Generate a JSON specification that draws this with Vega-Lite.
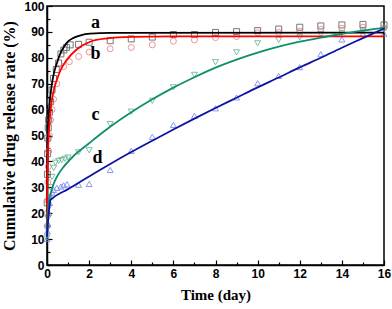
{
  "$schema": "https://vega.github.io/schema/vega-lite/v6.json",
  "width": 337,
  "height": 259,
  "autosize": {"type": "none"},
  "padding": {"left": 47, "top": 6, "right": 8, "bottom": 44},
  "background": "white",
  "view": {"stroke": "black", "strokeWidth": 1.5},
  "config": {
    "axis": {
      "grid": false,
      "domainColor": "black",
      "domainWidth": 1.5,
      "tickColor": "black",
      "tickWidth": 1.2,
      "labelFont": "Liberation Sans",
      "labelFontWeight": "bold",
      "labelFontSize": 12,
      "labelColor": "black",
      "titleFont": "Liberation Serif",
      "titleFontWeight": "bold",
      "titleColor": "black"
    }
  },
  "datasets": {
    "fit": [
      {"s": "a", "t": 0, "v": 11}, {"s": "a", "t": 0.02, "v": 35}, {"s": "a", "t": 0.06, "v": 52}, {"s": "a", "t": 0.12, "v": 62},
      {"s": "a", "t": 0.2, "v": 68}, {"s": "a", "t": 0.3, "v": 73}, {"s": "a", "t": 0.47, "v": 78}, {"s": "a", "t": 0.65, "v": 82},
      {"s": "a", "t": 0.8, "v": 84.2}, {"s": "a", "t": 1, "v": 86.3}, {"s": "a", "t": 1.26, "v": 87.7}, {"s": "a", "t": 1.6, "v": 88.7},
      {"s": "a", "t": 2.05, "v": 89.3}, {"s": "a", "t": 3, "v": 89.6}, {"s": "a", "t": 16, "v": 89.7},
      {"s": "b", "t": 0, "v": 11}, {"s": "b", "t": 0.01, "v": 29}, {"s": "b", "t": 0.04, "v": 42}, {"s": "b", "t": 0.08, "v": 50},
      {"s": "b", "t": 0.16, "v": 59}, {"s": "b", "t": 0.31, "v": 67}, {"s": "b", "t": 0.47, "v": 71.5}, {"s": "b", "t": 0.63, "v": 75},
      {"s": "b", "t": 0.95, "v": 79.3}, {"s": "b", "t": 1.42, "v": 83.3}, {"s": "b", "t": 2.05, "v": 86.2}, {"s": "b", "t": 2.85, "v": 87.5},
      {"s": "b", "t": 4, "v": 88.1}, {"s": "b", "t": 6, "v": 88.3}, {"s": "b", "t": 16, "v": 88.3},
      {"s": "c", "t": 0, "v": 11}, {"s": "c", "t": 0.03, "v": 20}, {"s": "c", "t": 0.08, "v": 24}, {"s": "c", "t": 0.16, "v": 27},
      {"s": "c", "t": 0.3, "v": 31}, {"s": "c", "t": 0.5, "v": 34.5}, {"s": "c", "t": 0.8, "v": 38}, {"s": "c", "t": 1.25, "v": 42},
      {"s": "c", "t": 2, "v": 47}, {"s": "c", "t": 2.5, "v": 50.3}, {"s": "c", "t": 3, "v": 53.4}, {"s": "c", "t": 4, "v": 59},
      {"s": "c", "t": 5, "v": 64}, {"s": "c", "t": 6, "v": 68.5}, {"s": "c", "t": 7, "v": 72.5}, {"s": "c", "t": 8, "v": 76.2},
      {"s": "c", "t": 9, "v": 79.3}, {"s": "c", "t": 10, "v": 82}, {"s": "c", "t": 11, "v": 84.3}, {"s": "c", "t": 12, "v": 86.2},
      {"s": "c", "t": 13, "v": 87.8}, {"s": "c", "t": 14, "v": 89.2}, {"s": "c", "t": 15, "v": 90.5}, {"s": "c", "t": 16, "v": 91.6},
      {"s": "d", "t": 0, "v": 11}, {"s": "d", "t": 0.05, "v": 17}, {"s": "d", "t": 0.1, "v": 21.5}, {"s": "d", "t": 0.16, "v": 25},
      {"s": "d", "t": 0.3, "v": 26}, {"s": "d", "t": 1, "v": 29.3}, {"s": "d", "t": 2, "v": 34.2}, {"s": "d", "t": 3, "v": 39},
      {"s": "d", "t": 4, "v": 43.6}, {"s": "d", "t": 5, "v": 48}, {"s": "d", "t": 6, "v": 52.3}, {"s": "d", "t": 7, "v": 56.5},
      {"s": "d", "t": 8, "v": 60.6}, {"s": "d", "t": 9, "v": 64.6}, {"s": "d", "t": 10, "v": 68.6}, {"s": "d", "t": 11, "v": 72.4},
      {"s": "d", "t": 12, "v": 76.3}, {"s": "d", "t": 13, "v": 80}, {"s": "d", "t": 14, "v": 83.9}, {"s": "d", "t": 15, "v": 87.6},
      {"s": "d", "t": 16, "v": 91.3}
    ],
    "obs": [
      {"s": "a", "t": 0.01, "v": 24}, {"s": "a", "t": 0.02, "v": 35}, {"s": "a", "t": 0.03, "v": 43}, {"s": "a", "t": 0.04, "v": 49},
      {"s": "a", "t": 0.06, "v": 53}, {"s": "a", "t": 0.08, "v": 56}, {"s": "a", "t": 0.12, "v": 59}, {"s": "a", "t": 0.17, "v": 63},
      {"s": "a", "t": 0.24, "v": 67.6}, {"s": "a", "t": 0.31, "v": 72}, {"s": "a", "t": 0.44, "v": 75.5}, {"s": "a", "t": 0.55, "v": 78},
      {"s": "a", "t": 0.66, "v": 81.5}, {"s": "a", "t": 0.8, "v": 83}, {"s": "a", "t": 0.92, "v": 84}, {"s": "a", "t": 1.1, "v": 85},
      {"s": "a", "t": 1.5, "v": 85.2}, {"s": "a", "t": 2, "v": 86}, {"s": "a", "t": 3, "v": 86.6}, {"s": "a", "t": 4, "v": 87.3},
      {"s": "a", "t": 5, "v": 88}, {"s": "a", "t": 6, "v": 89}, {"s": "a", "t": 7, "v": 89}, {"s": "a", "t": 8, "v": 89.8},
      {"s": "a", "t": 9, "v": 90.1}, {"s": "a", "t": 10, "v": 90.5}, {"s": "a", "t": 11, "v": 91.1}, {"s": "a", "t": 12, "v": 91.8},
      {"s": "a", "t": 13, "v": 92.3}, {"s": "a", "t": 14, "v": 92.7}, {"s": "a", "t": 15, "v": 92.9}, {"s": "a", "t": 16, "v": 92.7},
      {"s": "b", "t": 0.01, "v": 15}, {"s": "b", "t": 0.02, "v": 20}, {"s": "b", "t": 0.03, "v": 25}, {"s": "b", "t": 0.04, "v": 32},
      {"s": "b", "t": 0.06, "v": 38}, {"s": "b", "t": 0.08, "v": 44}, {"s": "b", "t": 0.12, "v": 50}, {"s": "b", "t": 0.17, "v": 56},
      {"s": "b", "t": 0.24, "v": 60}, {"s": "b", "t": 0.31, "v": 64}, {"s": "b", "t": 0.47, "v": 70}, {"s": "b", "t": 0.79, "v": 76.6},
      {"s": "b", "t": 1.06, "v": 78.5}, {"s": "b", "t": 1.5, "v": 80.5}, {"s": "b", "t": 2, "v": 82.2}, {"s": "b", "t": 3, "v": 83.5},
      {"s": "b", "t": 4, "v": 84}, {"s": "b", "t": 5, "v": 85}, {"s": "b", "t": 6, "v": 86.4}, {"s": "b", "t": 7, "v": 86.9},
      {"s": "b", "t": 8, "v": 87.8}, {"s": "b", "t": 9, "v": 88.2}, {"s": "b", "t": 10, "v": 89.7}, {"s": "b", "t": 11, "v": 89.8},
      {"s": "b", "t": 12, "v": 90.3}, {"s": "b", "t": 13, "v": 91}, {"s": "b", "t": 14, "v": 91.4}, {"s": "b", "t": 15, "v": 91.8},
      {"s": "b", "t": 16, "v": 91.5},
      {"s": "c", "t": 0, "v": 10.5}, {"s": "c", "t": 0.02, "v": 14}, {"s": "c", "t": 0.04, "v": 18}, {"s": "c", "t": 0.08, "v": 22},
      {"s": "c", "t": 0.12, "v": 26}, {"s": "c", "t": 0.16, "v": 30}, {"s": "c", "t": 0.24, "v": 34}, {"s": "c", "t": 0.32, "v": 37.5},
      {"s": "c", "t": 0.4, "v": 39.5}, {"s": "c", "t": 0.55, "v": 40.2}, {"s": "c", "t": 0.7, "v": 40.5}, {"s": "c", "t": 0.85, "v": 41},
      {"s": "c", "t": 1, "v": 41.5}, {"s": "c", "t": 1.5, "v": 43.5}, {"s": "c", "t": 2, "v": 44.3}, {"s": "c", "t": 3, "v": 54.4},
      {"s": "c", "t": 4, "v": 59.2}, {"s": "c", "t": 5, "v": 63.4}, {"s": "c", "t": 6, "v": 68.6}, {"s": "c", "t": 7, "v": 73.4},
      {"s": "c", "t": 8, "v": 78.3}, {"s": "c", "t": 9, "v": 82.1}, {"s": "c", "t": 10, "v": 85.6}, {"s": "c", "t": 11, "v": 86.9},
      {"s": "c", "t": 12, "v": 87.9}, {"s": "c", "t": 13, "v": 89.2}, {"s": "c", "t": 14, "v": 89.6}, {"s": "c", "t": 15, "v": 90.2},
      {"s": "c", "t": 16, "v": 91},
      {"s": "d", "t": 0, "v": 10}, {"s": "d", "t": 0.02, "v": 13}, {"s": "d", "t": 0.04, "v": 16}, {"s": "d", "t": 0.08, "v": 20},
      {"s": "d", "t": 0.12, "v": 24}, {"s": "d", "t": 0.16, "v": 26.5}, {"s": "d", "t": 0.24, "v": 28}, {"s": "d", "t": 0.31, "v": 29},
      {"s": "d", "t": 0.47, "v": 29.8}, {"s": "d", "t": 0.66, "v": 30.3}, {"s": "d", "t": 0.79, "v": 30.8}, {"s": "d", "t": 0.95, "v": 31.2},
      {"s": "d", "t": 1.5, "v": 31}, {"s": "d", "t": 2, "v": 31.3}, {"s": "d", "t": 3, "v": 36.7}, {"s": "d", "t": 4, "v": 44.1},
      {"s": "d", "t": 5, "v": 49.5}, {"s": "d", "t": 6, "v": 54.1}, {"s": "d", "t": 7, "v": 57.6}, {"s": "d", "t": 8, "v": 60.5},
      {"s": "d", "t": 9, "v": 64.7}, {"s": "d", "t": 10, "v": 70.2}, {"s": "d", "t": 11, "v": 73}, {"s": "d", "t": 12, "v": 76.4},
      {"s": "d", "t": 13, "v": 81.4}, {"s": "d", "t": 14, "v": 87.1}, {"s": "d", "t": 15, "v": 89.3}, {"s": "d", "t": 16, "v": 89.3}
    ],
    "labels": [
      {"s": "a", "t": 2.3, "v": 93.5},
      {"s": "b", "t": 2.3, "v": 81.5},
      {"s": "c", "t": 2.3, "v": 58},
      {"s": "d", "t": 2.4, "v": 41.5}
    ]
  },
  "encoding": {
    "x": {
      "field": "t", "type": "quantitative",
      "scale": {"domain": [0, 16], "nice": false, "zero": false},
      "axis": {
        "title": "Time (day)",
        "titleFontSize": 15,
        "titlePadding": 8,
        "values": [0,1,2,3,4,5,6,7,8,9,10,11,12,13,14,15,16],
        "labelExpr": "datum.value % 2 === 0 ? datum.label : ''",
        "tickSize": {"condition": {"test": "datum.value % 2 === 0", "value": -5}, "value": -3},
        "labelPadding": 8,
        "labelFlush": false
      }
    },
    "y": {
      "field": "v", "type": "quantitative",
      "scale": {"domain": [0, 100], "nice": false},
      "axis": {
        "title": "Cumulative drug release rate (%)",
        "titleFontSize": 16,
        "titlePadding": 6,
        "values": [0,5,10,15,20,25,30,35,40,45,50,55,60,65,70,75,80,85,90,95,100],
        "labelExpr": "datum.value % 10 === 0 ? datum.label : ''",
        "tickSize": {"condition": {"test": "datum.value % 10 === 0", "value": -5}, "value": -3},
        "labelPadding": 8,
        "labelFlush": false
      }
    }
  },
  "layer": [
    {
      "data": {"name": "obs"},
      "mark": {"type": "point", "filled": false, "size": 36, "strokeWidth": 1, "opacity": 0.8},
      "encoding": {
        "shape": {"field": "s", "type": "nominal", "scale": {"domain": ["a","b","c","d"], "range": ["square","circle","triangle-down","triangle-up"]}, "legend": null},
        "color": {"field": "s", "type": "nominal", "scale": {"domain": ["a","b","c","d"], "range": ["#555555","#f07a7a","#5fb08e","#6f7ff0"]}, "legend": null}
      }
    },
    {
      "data": {"name": "fit"},
      "mark": {"type": "line", "strokeWidth": 1.8, "interpolate": "monotone"},
      "encoding": {
        "stroke": {"field": "s", "type": "nominal", "scale": {"domain": ["a","b","c","d"], "range": ["#000000","#ff0000","#0f8f6a","#0c14a0"]}, "legend": null}
      }
    },
    {
      "data": {"name": "labels"},
      "mark": {"type": "text", "font": "Liberation Serif", "fontWeight": "bold", "fontSize": 18, "color": "black"},
      "encoding": {
        "text": {"field": "s", "type": "nominal"}
      }
    }
  ]
}
